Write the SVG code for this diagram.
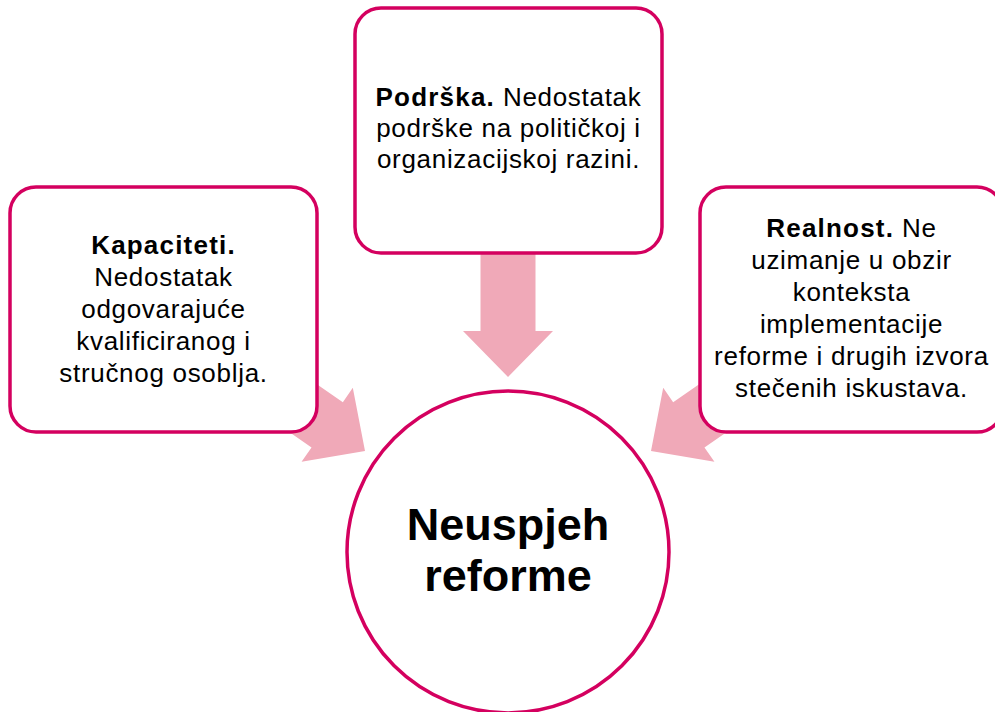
<svg xmlns="http://www.w3.org/2000/svg" width="995" height="712" viewBox="0 0 995 712">
<style>
.box{fill:#ffffff;stroke:#d4005f;stroke-width:3.5}
.arrow{fill:#f0a9b8}
.t{font-family:"Liberation Sans",Arial,sans-serif;font-size:26px;fill:#000;text-anchor:middle;letter-spacing:0.7px}
.b{font-weight:bold;letter-spacing:1.2px}
.c{font-family:"Liberation Sans",Arial,sans-serif;font-size:45px;font-weight:bold;fill:#000;text-anchor:middle}
</style>
<defs>
<polygon id="blk" points="0,0 -46,-45 -46,-27.5 -135,-27.5 -135,27.5 -46,27.5 -46,45"/>
</defs>
<rect width="995" height="712" fill="#ffffff"/>
<g id="connectors">
<use href="#blk" class="arrow" transform="translate(508,377) rotate(90)"/>
<use href="#blk" class="arrow" transform="translate(365,451) rotate(34.7)"/>
<use href="#blk" class="arrow" transform="translate(651,451) rotate(145.3)"/>
</g>
<g id="node-podrska">
<rect class="box" x="355" y="8" width="307" height="245" rx="26"/>
<text class="t" x="508.5" y="106"><tspan class="b">Podrška.</tspan> Nedostatak</text>
<text class="t" x="508.5" y="137">podrške na političkoj i</text>
<text class="t" x="508.5" y="168">organizacijskoj razini.</text>
</g>
<g id="node-kapaciteti">
<rect class="box" x="10" y="187" width="307" height="245" rx="26"/>
<text class="t b" x="163.5" y="254">Kapaciteti.</text>
<text class="t" x="163.5" y="286">Nedostatak</text>
<text class="t" x="163.5" y="318">odgovarajuće</text>
<text class="t" x="163.5" y="350">kvalificiranog i</text>
<text class="t" x="163.5" y="382">stručnog osoblja.</text>
</g>
<g id="node-realnost">
<rect class="box" x="700" y="187" width="303" height="245" rx="26"/>
<text class="t" x="851.5" y="237"><tspan class="b">Realnost.</tspan> Ne</text>
<text class="t" x="851.5" y="269">uzimanje u obzir</text>
<text class="t" x="851.5" y="301">konteksta</text>
<text class="t" x="851.5" y="333">implementacije</text>
<text class="t" x="851.5" y="365">reforme i drugih izvora</text>
<text class="t" x="851.5" y="397">stečenih iskustava.</text>
</g>
<g id="node-neuspjeh">
<circle class="box" cx="508" cy="552" r="161"/>
<text class="c" x="508" y="540">Neuspjeh</text>
<text class="c" x="508" y="591">reforme</text>
</g>
</svg>
